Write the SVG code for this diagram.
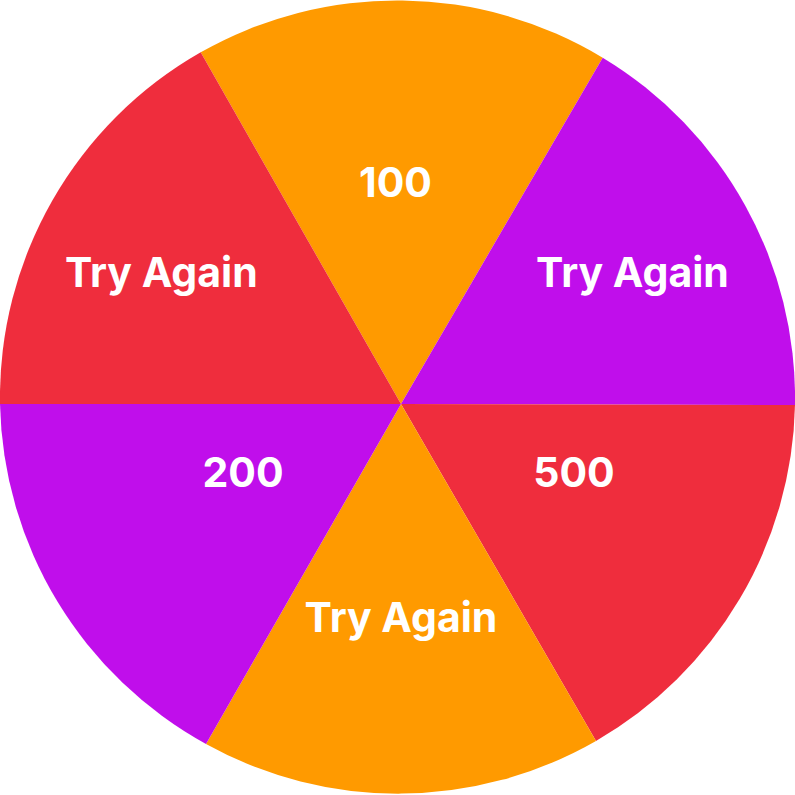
<svg xmlns="http://www.w3.org/2000/svg" width="795" height="795" viewBox="0 0 795 795">
<style>
.red{fill:#EF2D3D}
.orange{fill:#FF9A00}
.purple{fill:#C00EEB}
.lbl{fill:#FFFFFF;font-family:Inter,"Open Sans","Liberation Sans",sans-serif;font-weight:700;font-size:41px;text-anchor:middle}
</style>
<rect width="795" height="795" fill="#FFFFFF"/>
<g id="sector-100">
<path class="orange" d="M401,404 L200.7,52.3 A397.5,397.5 0 0 1 602.7,57.7 Z"/>
<text class="lbl" x="395.5" y="196.7">100</text>
</g>
<g id="sector-try-again-tr">
<path class="purple" d="M401,404 L602.7,57.7 A397.5,397.5 0 0 1 795,405 Z"/>
<text class="lbl" x="632.5" y="287.3">Try Again</text>
</g>
<g id="sector-500">
<path class="red" d="M401,404 L795,405 A397.5,397.5 0 0 1 596,741 Z"/>
<text class="lbl" x="574" y="486.7">500</text>
</g>
<g id="sector-try-again-b">
<path class="orange" d="M401,404 L596,741 A397.5,397.5 0 0 1 206,744 Z"/>
<text class="lbl" x="401" y="631.5">Try Again</text>
</g>
<g id="sector-200">
<path class="purple" d="M401,404 L206,744 A397.5,397.5 0 0 1 0,404 Z"/>
<text class="lbl" x="243" y="486.7">200</text>
</g>
<g id="sector-try-again-tl">
<path class="red" d="M401,404 L0,404 A397.5,397.5 0 0 1 200.7,52.3 Z"/>
<text class="lbl" x="161.3" y="287.3">Try Again</text>
</g>
</svg>
